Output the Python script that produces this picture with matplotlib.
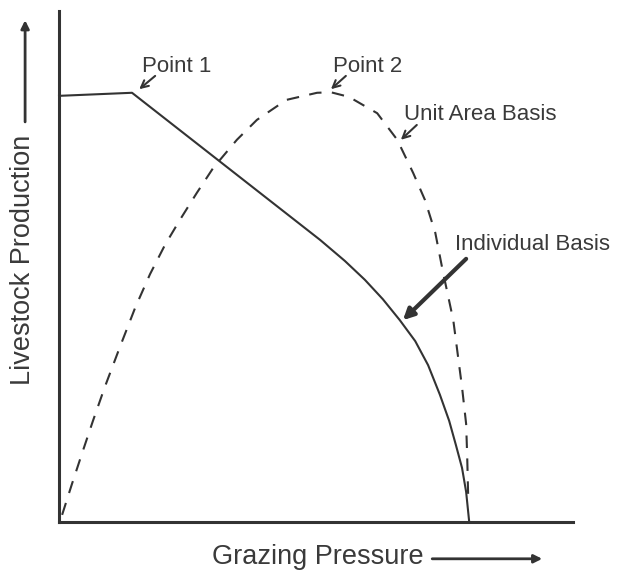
import matplotlib
matplotlib.use("Agg")
import matplotlib.pyplot as plt

# conceptual chart: grazing pressure vs livestock production (both 0..1, no units)
# individual basis (solid)
indiv_x = [0.000, 0.142, 0.508, 0.556, 0.595, 0.630, 0.663, 0.693, 0.718,
           0.741, 0.759, 0.772, 0.784, 0.792, 0.798]
indiv_y = [0.834, 0.840, 0.552, 0.511, 0.474, 0.436, 0.395, 0.354, 0.307,
           0.249, 0.198, 0.151, 0.106, 0.059, 0.000]

# unit area basis (dashed)
area_x = [0.006, 0.025, 0.045, 0.066, 0.089, 0.119, 0.148, 0.177, 0.206, 0.235, 0.268, 0.300,
          0.346, 0.385, 0.442, 0.502, 0.529, 0.564, 0.619, 0.658, 0.689, 0.712, 0.732, 0.747,
          0.767, 0.784, 0.792, 0.794, 0.796]
area_y = [0.014, 0.074, 0.135, 0.198, 0.264, 0.344, 0.419, 0.485, 0.542, 0.591, 0.644, 0.693,
          0.748, 0.787, 0.826, 0.840, 0.841, 0.832, 0.800, 0.748, 0.683, 0.630, 0.566, 0.489,
          0.395, 0.264, 0.192, 0.131, 0.049]

ink = '#333333'
txt = '#3a3a3a'
plt.rcParams['font.family'] = ['Liberation Sans', 'DejaVu Sans']

fig = plt.figure(figsize=(6.22, 5.71), dpi=100)
fig.patch.set_facecolor('white')
ax = fig.add_axes([0.0949, 0.0858, 0.8264, 0.8949])
ax.set_xlim(0, 1)
ax.set_ylim(0, 1)
ax.set_xticks([])
ax.set_yticks([])
for s in ['top', 'right']:
    ax.spines[s].set_visible(False)
for s in ['left', 'bottom']:
    ax.spines[s].set_linewidth(2.2)
    ax.spines[s].set_color(ink)

ax.plot(indiv_x, indiv_y, color=ink, lw=1.5, solid_joinstyle='round', clip_on=False)
ax.plot(area_x, area_y, color=ink, lw=1.5, linestyle=(0, (6, 5)), clip_on=False)

# small labels with short arrows
small = dict(arrowstyle='->', color=ink, lw=1.5, mutation_scale=13, shrinkA=0, shrinkB=0)

ax.annotate('', xy=(0.156, 0.847), xytext=(0.187, 0.873), arrowprops=small, annotation_clip=False)
ax.text(0.161, 0.881, 'Point 1', fontsize=16, color=txt, va='baseline')

ax.annotate('', xy=(0.529, 0.847), xytext=(0.558, 0.873), arrowprops=small, annotation_clip=False)
ax.text(0.533, 0.881, 'Point 2', fontsize=16, color=txt, va='baseline')

ax.annotate('', xy=(0.665, 0.748), xytext=(0.696, 0.777), arrowprops=small, annotation_clip=False)
ax.text(0.671, 0.787, 'Unit Area Basis', fontsize=16, color=txt, va='baseline')

big = dict(arrowstyle='-|>', color=ink, lw=3, mutation_scale=16, shrinkA=0, shrinkB=0)
ax.annotate('', xy=(0.669, 0.395), xytext=(0.792, 0.515), arrowprops=big, annotation_clip=False)
ax.text(0.770, 0.532, 'Individual Basis', fontsize=16, color=txt, va='baseline')

# axis titles with arrows
ax.text(-0.070, 0.513, 'Livestock Production', fontsize=19.5, color=txt, rotation=90,
        ha='center', va='center', rotation_mode='anchor')
ax.annotate('', xy=(-0.066, 0.982), xytext=(-0.066, 0.783), annotation_clip=False,
            arrowprops=dict(arrowstyle='-|>', color=ink, lw=2, mutation_scale=12, shrinkA=0, shrinkB=0))
ax.text(0.298, -0.082, 'Grazing Pressure', fontsize=19.5, color=txt, va='baseline')
ax.annotate('', xy=(0.940, -0.072), xytext=(0.726, -0.072), annotation_clip=False,
            arrowprops=dict(arrowstyle='-|>', color=ink, lw=2, mutation_scale=12, shrinkA=0, shrinkB=0))

fig.savefig('out.png', dpi=100, facecolor='white')
